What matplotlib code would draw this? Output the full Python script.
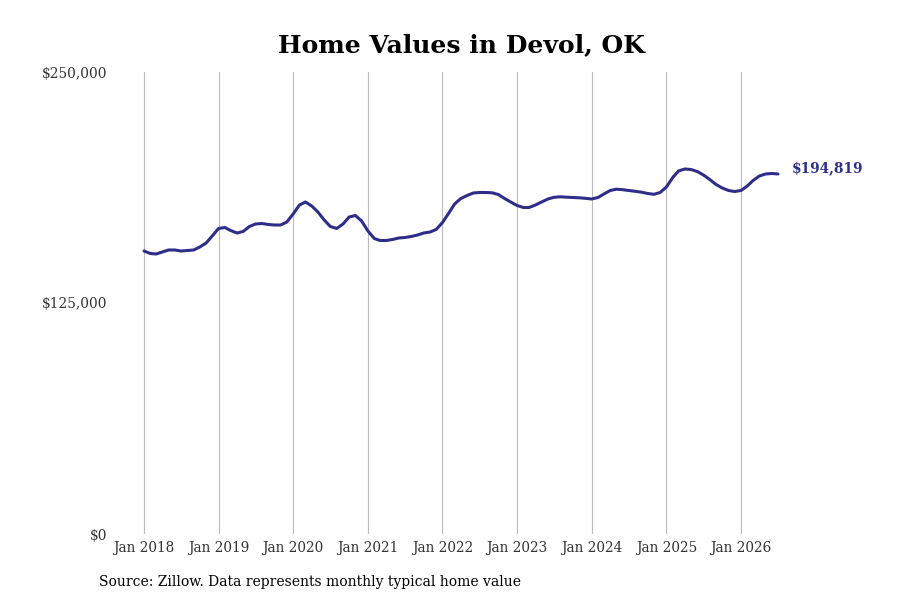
import datetime as dt
import matplotlib
matplotlib.use("Agg")
import matplotlib.pyplot as plt
import matplotlib.dates as mdates
from matplotlib.ticker import FuncFormatter

# monthly typical home value, Jan 2018 .. Jul 2026
start_year = 2018
values = [
    153140, 151787, 151516, 152599, 153681, 153681, 153140, 153410, 153681, 155304, 157469, 161257,
    165315, 165856, 164233, 162880, 163692, 166397, 167750, 168021, 167480, 167209, 167209, 168833,
    173162, 178032, 179655, 177491, 174244, 169915, 166397, 165315, 167750, 171538, 172350, 169374,
    163962, 159904, 158822, 158822, 159363, 160174, 160445, 160986, 161798, 162880, 163421, 164774,
    168562, 173703, 178573, 181549, 183172, 184525, 184796, 184796, 184633, 183714, 181549, 179655,
    177761, 176679, 176679, 178032, 179655, 181279, 182199, 182469, 182253, 182090, 181928, 181657,
    181279, 182090, 183984, 185878, 186582, 186311, 185878, 185446, 184959, 184255, 183822, 184796,
    187772, 192913, 196430, 197512, 197242, 196160, 194266, 191831, 189125, 187231, 185878, 185337,
    185878, 188313, 191290, 193725, 194807, 195077, 194819,
]
tick_years = list(range(2018, 2027))
y_ticks = [0, 125000, 250000]

dates = [dt.date(start_year + i // 12, i % 12 + 1, 1) for i in range(len(values))]

line_color = "#2e2e8a"
plt.rcParams["font.family"] = "DejaVu Serif"

fig = plt.figure(figsize=(9, 6), dpi=100)
ax = fig.add_axes([112 / 900, 66 / 600, 698 / 900, 462 / 600])

ax.plot(dates, values, color=line_color, linewidth=2.2, solid_capstyle="round")

# x limits chosen so Jan 2018 / Jan 2026 land where they sit in the reference
px_per_day = (741 - 144) / (dt.date(2026, 1, 1) - dt.date(2018, 1, 1)).days
left = mdates.date2num(dt.date(2018, 1, 1)) - (144 - 112) / px_per_day
right = mdates.date2num(dt.date(2026, 1, 1)) + (810 - 741) / px_per_day
ax.set_xlim(left, right)
ax.set_ylim(0, 250000)

ax.set_xticks([dt.date(y, 1, 1) for y in tick_years])
ax.set_xticklabels([f"Jan {y}" for y in tick_years], fontsize=9.8, color="#333333")
ax.set_yticks(y_ticks)
ax.yaxis.set_major_formatter(FuncFormatter(lambda v, p: f"${v:,.0f}"))
ax.tick_params(axis="y", labelsize=9.9, labelcolor="#333333", length=0, pad=3.6)
ax.tick_params(axis="x", length=0, pad=5)
ax.grid(axis="x", color="#bbbbbb", linewidth=0.8)
ax.set_axisbelow(True)
for s in ax.spines.values():
    s.set_visible(False)

ax.annotate(f"${values[-1]:,}", xy=(dates[-1], values[-1]), xytext=(10, 4.3),
            textcoords="offset points", color=line_color, fontsize=9.9,
            fontweight="bold", va="center", ha="left")

fig.text(461 / 900, 0.925, "Home Values in Devol, OK", ha="center", va="center",
         fontsize=18, fontweight="bold")
fig.text(99 / 900, 1 - 582 / 600, "Source: Zillow. Data represents monthly typical home value",
         ha="left", va="center", fontsize=10)

fig.savefig("out.png", dpi=100)
